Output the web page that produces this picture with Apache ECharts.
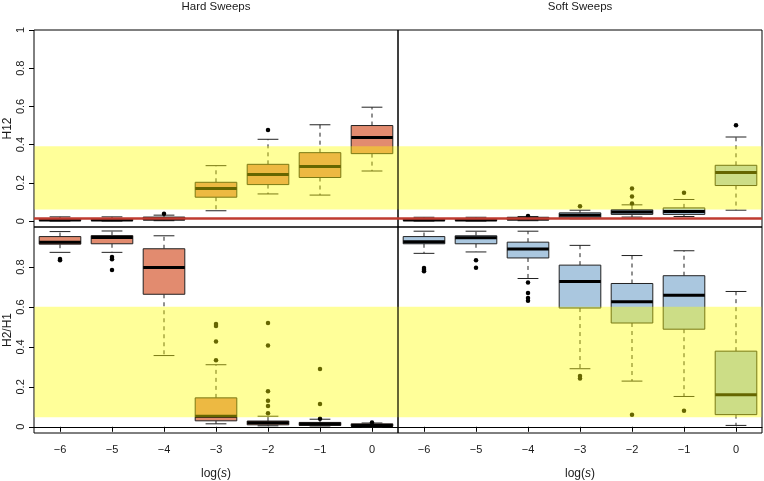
<!DOCTYPE html>
<html><head><meta charset="utf-8">
<script src="https://cdn.jsdelivr.net/npm/echarts@6/dist/echarts.min.js"></script>
<style>html,body{margin:0;padding:0;background:#fff}#c{width:764px;height:481px}</style>
</head><body><div id="c"></div>
<script>
// ---------------- data ----------------
const categories = ['\u22126', '\u22125', '\u22124', '\u22123', '\u22122', '\u22121', '0'];
const yTicksTop = [0, 0.2, 0.4, 0.6, 0.8, 1];
const yTicksBottom = [0, 0.2, 0.4, 0.6, 0.8];
const panelTitles = ['Hard Sweeps', 'Soft Sweeps'];

// box stats per category: [lowerWhisker, Q1, median, Q3, upperWhisker]
const hardH12 = [
  [0.000, 0.003, 0.006, 0.010, 0.022],
  [0.000, 0.003, 0.006, 0.010, 0.022],
  [0.002, 0.006, 0.011, 0.021, 0.031],
  [0.054, 0.125, 0.171, 0.203, 0.290],
  [0.142, 0.191, 0.244, 0.297, 0.428],
  [0.136, 0.228, 0.285, 0.358, 0.504],
  [0.262, 0.353, 0.438, 0.500, 0.596]
];
const hardH12Out = [[], [], [0.038], [], [0.476], [], []];

const softH12 = [
  [0.000, 0.003, 0.006, 0.010, 0.020],
  [0.000, 0.003, 0.006, 0.010, 0.020],
  [0.002, 0.006, 0.011, 0.020, 0.024],
  [0.012, 0.017, 0.030, 0.043, 0.057],
  [0.021, 0.035, 0.047, 0.059, 0.085],
  [0.024, 0.035, 0.050, 0.069, 0.113],
  [0.057, 0.186, 0.254, 0.292, 0.440]
];
const softH12Out = [[], [], [0.027], [0.078], [0.092, 0.129, 0.170], [0.148], [0.502]];

const hardH2H1 = [
  [0.874, 0.915, 0.925, 0.953, 0.978],
  [0.874, 0.917, 0.948, 0.958, 0.981],
  [0.357, 0.664, 0.798, 0.892, 0.957],
  [0.015, 0.030, 0.053, 0.145, 0.311],
  [0.005, 0.010, 0.020, 0.029, 0.053],
  [0.004, 0.007, 0.014, 0.022, 0.038],
  [0.000, 0.003, 0.007, 0.015, 0.019]
];
const hardH2H1Out = [[0.835, 0.841], [0.785, 0.840, 0.851], [], [0.333, 0.427, 0.505, 0.515],
  [0.068, 0.104, 0.130, 0.178, 0.407, 0.520], [0.041, 0.114, 0.290], [0.022]];

const softH2H1 = [
  [0.869, 0.917, 0.927, 0.953, 0.980],
  [0.876, 0.917, 0.947, 0.957, 0.980],
  [0.743, 0.846, 0.891, 0.925, 0.980],
  [0.291, 0.595, 0.728, 0.810, 0.909],
  [0.229, 0.520, 0.626, 0.718, 0.858],
  [0.152, 0.489, 0.659, 0.757, 0.882],
  [0.007, 0.061, 0.161, 0.379, 0.678]
];
const softH2H1Out = [[0.779, 0.787, 0.795], [0.797, 0.835], [0.632, 0.645, 0.670, 0.723], [0.242, 0.254],
  [0.061], [0.081], []];

const h12Band = [0.060, 0.391];
const h2h1Band = [0.048, 0.601];
const h12Threshold = 0.014;

// ---------------- styles ----------------
const FONT = '"Liberation Sans", Arial, Helvetica, sans-serif';
const TXT = '#1a1a1a';
const HARD_FILL = '#E28B6F';
const SOFT_FILL = '#AAC7DF';
const EDGE = '#222';
const BAND = 'rgba(255,255,0,0.4)';
const RED = '#BF3B30';

const gridPos = [
  {left: 34, top: 29.5, width: 364, height: 197.5},
  {left: 398, top: 29.5, width: 364, height: 197.5},
  {left: 34, top: 227, width: 364, height: 209},
  {left: 398, top: 227, width: 364, height: 209}
];

const panels = [
  {stats: hardH12, out: hardH12Out, fill: HARD_FILL, band: h12Band, line: h12Threshold},
  {stats: softH12, out: softH12Out, fill: SOFT_FILL, band: h12Band, line: h12Threshold},
  {stats: hardH2H1, out: hardH2H1Out, fill: HARD_FILL, band: h2h1Band, line: null},
  {stats: softH2H1, out: softH2H1Out, fill: SOFT_FILL, band: h2h1Band, line: null}
];

function makeBoxRenderer(fill) {
  return function (params, api) {
    const x = api.value(0);
    const p = [1, 2, 3, 4, 5].map(d => api.coord([x, api.value(d)]));
    const cx = p[0][0];
    const bw = api.size([1, 0])[0];
    const hb = bw * 0.4, hc = bw * 0.2;
    const dash = {stroke: EDGE, lineWidth: 1, lineDash: [4, 4], fill: null};
    const solid = {stroke: EDGE, lineWidth: 1, fill: null};
    return {
      type: 'group',
      children: [
        {type: 'line', shape: {x1: cx, y1: p[3][1], x2: cx, y2: p[4][1]}, style: dash},
        {type: 'line', shape: {x1: cx, y1: p[1][1], x2: cx, y2: p[0][1]}, style: dash},
        {type: 'line', shape: {x1: cx - hc, y1: p[4][1], x2: cx + hc, y2: p[4][1]}, style: solid},
        {type: 'line', shape: {x1: cx - hc, y1: p[0][1], x2: cx + hc, y2: p[0][1]}, style: solid},
        {type: 'rect', shape: {x: cx - hb, y: p[3][1], width: 2 * hb, height: p[1][1] - p[3][1]},
          style: {fill: fill, stroke: EDGE, lineWidth: 1}},
        {type: 'line', shape: {x1: cx - hb, y1: p[2][1], x2: cx + hb, y2: p[2][1]},
          style: {stroke: '#000', lineWidth: 3, fill: null}}
      ]
    };
  };
}

function renderBand(params, api) {
  const cs = params.coordSys;
  const y1 = api.coord([0, api.value(1)])[1];
  const y2 = api.coord([0, api.value(2)])[1];
  return {type: 'rect', shape: {x: cs.x + 0.5, y: y2, width: cs.width - 1, height: y1 - y2},
    style: {fill: BAND}};
}

function renderHLine(params, api) {
  const cs = params.coordSys;
  const y = api.coord([0, api.value(1)])[1];
  return {type: 'line', shape: {x1: cs.x, y1: y, x2: cs.x + cs.width, y2: y},
    style: {stroke: RED, lineWidth: 2.5, fill: null}};
}

const series = [];
panels.forEach((pn, g) => {
  series.push({
    type: 'custom', xAxisIndex: g, yAxisIndex: g, z: 2, silent: true,
    renderItem: makeBoxRenderer(pn.fill),
    encode: {x: 0, y: [1, 2, 3, 4, 5]},
    data: pn.stats.map((s, i) => [i].concat(s))
  });
  const pts = [];
  pn.out.forEach((vals, i) => vals.forEach(v => pts.push([i, v])));
  series.push({
    type: 'scatter', xAxisIndex: g, yAxisIndex: g, z: 3, silent: true,
    symbol: 'circle', symbolSize: 4.5, itemStyle: {color: '#000', opacity: 1},
    data: pts
  });
  series.push({
    type: 'custom', xAxisIndex: g, yAxisIndex: g, z: 10, silent: true,
    renderItem: renderBand, encode: {x: 0, y: [1, 2]},
    data: [[3, pn.band[0], pn.band[1]]]
  });
  if (pn.line !== null) {
    series.push({
      type: 'custom', xAxisIndex: g, yAxisIndex: g, z: 11, silent: true,
      renderItem: renderHLine, encode: {x: 0, y: 1},
      data: [[3, pn.line]]
    });
  }
});

const xAxes = gridPos.map((gp, g) => {
  const bottom = g >= 2;
  const ax = {
    type: 'category', gridIndex: g, data: categories, boundaryGap: true,
    position: bottom ? 'bottom' : 'top',
    axisLine: {show: bottom, lineStyle: {color: '#000', width: 1}},
    axisTick: {show: bottom, alignWithLabel: true, length: 5, lineStyle: {color: '#000'}},
    axisLabel: {show: bottom, margin: 11, fontSize: 11, color: TXT, fontFamily: FONT},
    splitLine: {show: false}
  };
  if (bottom) {
    ax.name = '{n|log(}{i|s}{n|)}';
    ax.nameLocation = 'middle';
    ax.nameGap = 35;
    ax.nameTextStyle = {
      fontSize: 12, color: TXT, fontFamily: FONT,
      rich: {n: {fontSize: 12, color: TXT, fontFamily: FONT},
             i: {fontSize: 12, color: TXT, fontFamily: FONT, fontStyle: 'italic'}}
    };
  } else {
    ax.name = panelTitles[g];
    ax.nameLocation = 'middle';
    ax.nameGap = 17;
    ax.nameTextStyle = {fontSize: 11.5, color: TXT, fontFamily: FONT};
  }
  return ax;
});

const yAxes = gridPos.map((gp, g) => {
  const left = g % 2 === 0;
  const top = g < 2;
  const ticks = top ? yTicksTop : yTicksBottom;
  return {
    type: 'value', gridIndex: g,
    min: -0.031, max: top ? 1.0 : 1.001,
    splitLine: {show: false},
    axisLine: {show: false},
    axisTick: {show: left, length: 5, customValues: ticks, lineStyle: {color: '#000'}},
    axisLabel: {show: left, customValues: ticks, rotate: 90, margin: 8, fontSize: 11,
      color: TXT, fontFamily: FONT, formatter: v => String(v)},
    name: left ? (top ? 'H12' : 'H2/H1') : '',
    nameLocation: 'middle', nameRotate: 90, nameGap: 20,
    nameTextStyle: {fontSize: 12, color: TXT, fontFamily: FONT}
  };
});

const chart = echarts.init(document.getElementById('c'), null, {renderer: 'canvas'});
chart.setOption({
  animation: false,
  backgroundColor: '#fff',
  grid: gridPos.map(gp => Object.assign({show: true, borderColor: '#000', borderWidth: 1,
    backgroundColor: 'transparent', containLabel: false}, gp)),
  xAxis: xAxes,
  yAxis: yAxes,
  series: series
});
</script>
</body></html>
